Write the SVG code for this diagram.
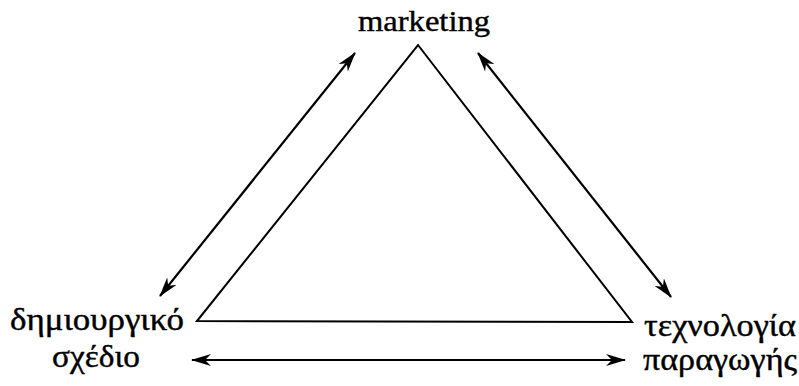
<svg xmlns="http://www.w3.org/2000/svg" width="799" height="386" viewBox="0 0 799 386">
<style>
text{font-family:'Liberation Serif','Times New Roman',serif;fill:#000;stroke:#000;stroke-width:0.4}
.m{font-size:30px}
.g{font-size:31px}
.ln{stroke:#000;stroke-width:2;fill:none}
.conn{stroke:#000;stroke-width:2.2;fill:none;marker-start:url(#ah);marker-end:url(#ah)}
</style>
<defs>
<marker id="ah" viewBox="0 0 20 12" refX="19" refY="6" markerWidth="20" markerHeight="12" markerUnits="userSpaceOnUse" orient="auto-start-reverse">
<path d="M0,0 L20,6 L0,12 L6,6 Z" fill="#000"/>
</marker>
</defs>
<rect width="799" height="386" fill="#fff"/>
<g id="triangle">
<path class="ln" d="M197,321 L418,45 L632,322 Z"/>
</g>
<g id="connectors">
<line class="conn" x1="160" y1="296" x2="355" y2="53"/>
<line class="conn" x1="478" y1="53" x2="671" y2="297"/>
<line class="conn" x1="192" y1="360" x2="625" y2="360"/>
</g>
<g id="marketing"><text class="m" x="358" y="31" textLength="132" lengthAdjust="spacingAndGlyphs">marketing</text></g>
<g id="design"><text class="g" x="10" y="330" textLength="174" lengthAdjust="spacingAndGlyphs">δημιουργικό</text><text class="g" x="52" y="367" textLength="88" lengthAdjust="spacingAndGlyphs">σχέδιο</text></g>
<g id="production"><text class="g" x="644" y="336" textLength="152" lengthAdjust="spacingAndGlyphs">τεχνολογία</text><text class="g" x="643" y="370" textLength="154" lengthAdjust="spacingAndGlyphs">παραγωγής</text></g>
</svg>
